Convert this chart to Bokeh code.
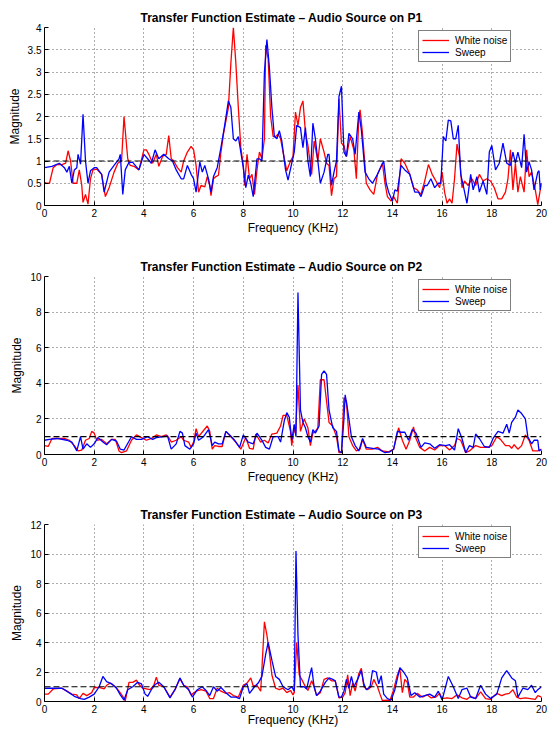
from bokeh.plotting import figure
from bokeh.layouts import column
from bokeh.models import Range1d, FixedTicker, Span, Legend, LegendItem, Title
from bokeh.embed import file_html
from bokeh.resources import INLINE

# ---------------- data ----------------
x_ticks = [0, 2, 4, 6, 8, 10, 12, 14, 16, 18, 20]
x_tick_labels = ["0", "2", "4", "6", "8", "10", "12", "14", "16", "18", "20"]
y_ticks_p1 = [0, 0.5, 1, 1.5, 2, 2.5, 3, 3.5, 4]
y_tick_labels_p1 = ["0", "0.5", "1", "1.5", "2", "2.5", "3", "3.5", "4"]
y_ticks_p2 = [0, 2, 4, 6, 8, 10]
y_tick_labels_p2 = ["0", "2", "4", "6", "8", "10"]
y_ticks_p3 = [0, 2, 4, 6, 8, 10, 12]
y_tick_labels_p3 = ["0", "2", "4", "6", "8", "10", "12"]
ref_level = 1.0
series_names = ["White noise", "Sweep"]
titles = ["Transfer Function Estimate \u2013 Audio Source on P1",
          "Transfer Function Estimate \u2013 Audio Source on P2",
          "Transfer Function Estimate \u2013 Audio Source on P3"]

# P1 white noise
p1_noise_f = [0, 0.1, 0.2, 0.35, 0.5, 0.7, 0.85, 0.95, 1.05, 1.15, 1.3, 1.4, 1.5, 1.55, 1.65, 1.75, 1.85, 1.95,
              2.1, 2.3, 2.45, 2.6, 2.8, 2.95, 3.1, 3.2, 3.35, 3.45, 3.6, 3.8, 4.0, 4.1, 4.2, 4.35, 4.5, 4.6,
              4.75, 4.9, 5.0, 5.1, 5.2, 5.35, 5.5, 5.6, 5.75, 5.9, 6.0, 6.1, 6.2, 6.3, 6.45, 6.55, 6.65, 6.7,
              6.8, 6.9, 7.0, 7.1, 7.2, 7.3, 7.4, 7.5, 7.6, 7.7, 7.8, 7.9, 8.0, 8.05, 8.15, 8.25, 8.35, 8.45,
              8.55, 8.65, 8.75, 8.85, 8.9, 9.0, 9.1, 9.2, 9.3, 9.4, 9.5, 9.6, 9.75, 9.9, 10.0, 10.1, 10.2,
              10.3, 10.4, 10.5, 10.6, 10.75, 10.85, 11.0, 11.1, 11.25, 11.35, 11.45, 11.55, 11.65, 11.75,
              11.85, 11.95, 12.05, 12.15, 12.3, 12.45, 12.55, 12.65, 12.7, 12.8, 12.95, 13.1, 13.25, 13.4,
              13.6, 13.7, 13.8, 13.95, 14.05, 14.2, 14.35, 14.5, 14.7, 14.85, 15.0, 15.15, 15.3, 15.45, 15.6,
              15.75, 15.9, 16.0, 16.1, 16.2, 16.3, 16.4, 16.5, 16.6, 16.7, 16.8, 16.9, 17.05, 17.2, 17.35,
              17.5, 17.65, 17.8, 17.95, 18.1, 18.25, 18.4, 18.55, 18.65, 18.75, 18.85, 18.95, 19.05, 19.15,
              19.3, 19.4, 19.5, 19.6, 19.75, 19.85, 19.95, 20.0]
p1_noise_m = [0.52, 0.5, 0.5, 0.85, 0.92, 0.92, 0.95, 1.23, 1.0, 0.5, 0.5, 0.8, 0.45, 0.07, 0.25, 0.03, 0.6, 0.8,
              0.82, 0.7, 0.2, 0.4, 0.75, 0.95, 1.0, 2.0, 1.05, 0.9, 0.88, 0.8, 1.25, 1.25, 1.15, 0.95, 1.15, 0.88,
              1.1, 1.15, 1.57, 1.05, 1.0, 0.85, 0.75, 1.0, 1.2, 1.33, 1.25, 0.9, 0.3, 0.45, 0.42, 0.65, 0.45, 0.22,
              0.6, 0.65, 0.68, 1.2, 1.6, 1.9, 2.2, 3.2, 4.0, 3.2, 2.2, 1.3, 0.9, 0.45, 1.15, 0.6, 0.7, 0.25,
              0.8, 1.2, 1.05, 1.5, 3.6, 3.3, 2.0, 1.55, 1.55, 1.6, 1.5, 1.2, 0.78, 1.0, 1.1, 2.1, 1.8,
              2.2, 2.35, 1.65, 1.35, 0.7, 1.45, 1.0, 1.5, 1.2, 0.95, 0.9, 0.22, 0.6, 0.65,
              2.4, 1.4, 1.35, 1.1, 1.55, 1.25, 0.6, 2.0, 2.15, 1.6, 0.5, 0.35, 0.25, 0.7,
              0.95, 0.5, 0.2, 0.1, 0.2, 0.05, 1.05, 0.95, 0.7, 0.4, 0.35, 0.25, 0.55, 0.92, 0.7,
              0.55, 0.4, 0.75, 0.3, 0.05, 0.15, 0.05, 0.6, 1.38, 1.1, 0.4, 0.55, 0.45, 0.6, 0.45,
              0.7, 0.55, 0.6, 0.55, 0.4, 0.15, 0.15, 0.3, 0.6, 1.25, 0.35, 0.95, 0.3, 0.65,
              0.3, 1.25, 0.65, 0.75, 0.35, 0.02, 0.35, 0.5]

# P1 sweep
p1_sweep_f = [0, 0.3, 0.6, 0.8, 0.9, 1.0, 1.1, 1.2, 1.3, 1.35, 1.45, 1.55, 1.65, 1.75, 1.85, 2.0, 2.1, 2.3, 2.4,
              2.6, 2.8, 3.0, 3.05, 3.15, 3.25, 3.4, 3.55, 3.8, 4.0, 4.15, 4.3, 4.45, 4.6, 4.8, 5.0, 5.15, 5.3,
              5.5, 5.6, 5.75, 5.9, 6.0, 6.1, 6.25, 6.35, 6.45, 6.6, 6.7, 6.8, 6.95, 7.1, 7.25, 7.4, 7.5, 7.6,
              7.7, 7.8, 7.9, 8.0, 8.1, 8.2, 8.3, 8.4, 8.55, 8.65, 8.75, 8.85, 8.95, 9.05, 9.15, 9.25, 9.35,
              9.45, 9.55, 9.7, 9.8, 9.95, 10.05, 10.15, 10.3, 10.4, 10.5, 10.6, 10.7, 10.8, 10.9, 11.0, 11.1,
              11.25, 11.4, 11.45, 11.55, 11.65, 11.75, 11.85, 11.95, 12.05, 12.15, 12.25, 12.4, 12.5, 12.65,
              12.75, 12.9, 13.05, 13.2, 13.4, 13.65, 13.75, 13.85, 14.0, 14.1, 14.2, 14.35, 14.5, 14.7, 14.9,
              15.05, 15.15, 15.3, 15.4, 15.55, 15.7, 15.85, 15.95, 16.05, 16.15, 16.25, 16.35, 16.45, 16.55,
              16.65, 16.75, 16.85, 17.0, 17.15, 17.25, 17.4, 17.5, 17.65, 17.8, 17.9, 18.0, 18.15, 18.3, 18.45,
              18.6, 18.75, 18.85, 18.95, 19.05, 19.2, 19.3, 19.4, 19.5, 19.6, 19.7, 19.85, 19.9, 19.95, 20.0]
p1_sweep_m = [0.85, 0.88, 0.95, 0.85, 0.75, 0.88, 0.5, 0.8, 0.85, 1.15, 0.93, 2.05, 1.0, 0.5, 0.78, 0.85, 0.85, 0.7, 0.3,
              0.75, 0.9, 1.05, 1.15, 0.25, 0.8, 0.97, 0.97, 0.8, 1.15, 1.05, 0.95, 1.25, 1.05, 1.15, 1.05, 1.0, 0.8,
              0.6, 0.6, 0.9, 0.7, 0.6, 0.3, 0.98, 0.75, 0.9, 0.6, 0.3, 0.65, 0.85, 1.3, 1.8, 2.35, 2.2, 1.5,
              1.45, 1.55, 1.2, 0.85, 0.4, 0.68, 0.5, 0.2, 1.05, 1.05, 1.0, 3.0, 3.73, 3.1, 2.2, 1.55, 1.5,
              1.68, 1.45, 0.8, 0.57, 0.95, 1.2, 1.8, 1.75, 1.3, 1.75, 1.0, 0.65, 1.85, 1.5, 1.0, 0.5,
              0.75, 1.15, 1.15, 0.45, 0.75, 1.0, 2.45, 2.68, 1.2, 1.1, 1.62, 1.5, 1.15, 2.1,
              1.7, 0.75, 0.6, 0.5, 0.7, 1.0, 0.5, 0.3, 0.1, 0.35, 0.32, 0.9, 0.8, 0.7, 0.3,
              0.3, 0.2, 0.45, 0.45, 0.6, 0.4, 0.5, 0.5, 1.55, 1.45, 1.92, 1.9, 1.5, 1.5,
              1.8, 0.7, 0.45, 0.05, 0.7, 0.35, 0.65, 0.3, 0.55, 0.25, 1.2, 1.35, 0.8, 0.95, 1.4,
              0.95, 0.9, 1.2, 0.95, 1.2, 0.85, 1.6, 0.75, 0.98, 0.8, 0.35, 0.75, 0.78, 0.35, 0.5]

# P2 white noise
p2_noise_f = [0, 0.15, 0.3, 0.8, 1.0, 1.2, 1.35, 1.5, 1.65, 1.8, 1.9, 2.0, 2.1, 2.3, 2.5, 2.7, 2.85, 3.0, 3.1,
              3.3, 3.5, 3.7, 3.9, 4.1, 4.3, 4.5, 4.7, 4.9, 5.0, 5.1, 5.3, 5.5, 5.6, 5.8, 5.9, 6.0, 6.1, 6.2,
              6.4, 6.55, 6.65, 6.75, 6.85, 7.0, 7.15, 7.3, 7.5, 7.7, 7.9, 8.1, 8.25, 8.4, 8.5, 8.7, 8.85,
              9.0, 9.15, 9.35, 9.5, 9.6, 9.75, 9.9, 9.95, 10.05, 10.1, 10.2, 10.3, 10.45, 10.6, 10.7, 10.8,
              10.9, 11.0, 11.1, 11.25, 11.35, 11.45, 11.6, 11.75, 11.85, 11.95, 12.05, 12.15, 12.25, 12.4,
              12.55, 12.7, 12.8, 12.95, 13.2, 13.4, 13.6, 13.85, 14.05, 14.25, 14.4, 14.55, 14.7, 14.85,
              14.95, 15.1, 15.3, 15.5, 15.7, 15.9, 16.1, 16.3, 16.5, 16.6, 16.75, 16.95, 17.1, 17.35, 17.55,
              17.8, 18.0, 18.2, 18.35, 18.55, 18.7, 18.8, 18.9, 19.05, 19.2, 19.35, 19.5, 19.65, 19.85, 20.0]
p2_noise_m = [0.5, 0.45, 0.9, 0.9, 0.8, 0.5, 0.2, 0.25, 0.8, 0.9, 1.3, 1.2, 0.8, 0.85, 0.6, 0.85, 0.85, 0.2, 0.1,
              0.2, 0.8, 1.1, 0.95, 0.8, 0.9, 1.1, 1.0, 1.1, 0.95, 0.7, 0.8, 1.0, 0.8, 0.7, 0.4, 0.7, 1.45, 1.0,
              1.35, 1.6, 1.3, 0.3, 0.5, 0.45, 0.45, 1.3, 1.0, 0.7, 0.3, 0.95, 0.35, 0.3, 1.15, 0.7, 0.8,
              0.65, 1.15, 1.2, 1.6, 2.2, 2.2, 1.3, 0.5, 1.5, 1.2, 3.9, 1.3, 2.0, 1.5, 0.5, 1.2,
              1.3, 1.5, 4.2, 4.2, 3.0, 1.8, 1.6, 1.0, 0.1, 0.1, 3.2, 3.0, 1.0, 0.5,
              0.2, 0.3, 0.85, 0.3, 0.3, 0.4, 0.2, 0.15, 0.3, 1.5, 0.8, 0.3, 0.8, 1.55,
              0.9, 0.4, 0.2, 0.4, 0.25, 0.5, 0.5, 0.25, 0.5, 0.9, 0.8, 0.1, 0.2, 0.5, 0.4,
              0.4, 0.5, 1.0, 0.85, 0.5, 0.5, 0.35, 0.55, 0.3, 0.5, 1.1, 0.8, 0.2, 0.2, 0.3]

# P2 sweep
p2_sweep_f = [0, 0.2, 0.5, 0.9, 1.1, 1.3, 1.45, 1.55, 1.7, 1.85, 2.0, 2.15, 2.35, 2.5, 2.7, 2.9, 3.05, 3.2, 3.5,
              3.7, 3.9, 4.15, 4.35, 4.5, 4.8, 4.95, 5.1, 5.3, 5.45, 5.55, 5.65, 5.85, 6.0, 6.1, 6.2, 6.4, 6.6,
              6.75, 6.85, 7.0, 7.15, 7.3, 7.45, 7.65, 7.85, 8.0, 8.2, 8.4, 8.55, 8.75, 8.9, 9.05, 9.2, 9.4,
              9.5, 9.65, 9.75, 9.85, 9.95, 10.05, 10.12, 10.2, 10.3, 10.4, 10.5, 10.6, 10.7, 10.8, 10.9, 11.05,
              11.15, 11.25, 11.35, 11.45, 11.6, 11.75, 11.85, 11.95, 12.05, 12.1, 12.2, 12.35, 12.5, 12.65,
              12.8, 12.95, 13.2, 13.45, 13.7, 13.9, 14.05, 14.2, 14.35, 14.5, 14.65, 14.8, 14.95, 15.15, 15.3,
              15.5, 15.7, 15.9, 16.15, 16.3, 16.5, 16.65, 16.8, 16.95, 17.1, 17.25, 17.35, 17.5, 17.7, 17.9,
              18.05, 18.25, 18.45, 18.6, 18.7, 18.8, 18.95, 19.05, 19.2, 19.35, 19.45, 19.6, 19.7, 19.85, 19.9,
              20.0]
p2_sweep_m = [0.8, 0.85, 0.9, 0.8, 0.7, 0.2, 1.0, 0.3, 0.6, 0.4, 0.6, 0.95, 0.7, 0.55, 0.85, 0.75, 0.3, 0.25, 1.0,
              0.85, 0.85, 1.0, 0.85, 0.95, 1.0, 1.05, 0.3, 0.6, 1.3, 1.2, 0.5, 0.3, 0.6, 1.2, 0.8, 1.0, 1.4,
              0.5, 0.7, 0.6, 0.6, 1.3, 1.1, 0.8, 0.4, 1.1, 0.7, 0.6, 1.2, 0.8, 0.4, 0.3, 1.0, 1.0,
              0.7, 1.9, 2.35, 2.1, 0.8, 1.7, 1.0, 9.1, 2.5, 1.8, 1.5, 1.0, 0.7, 1.4, 1.2, 1.6,
              4.5, 4.7, 4.5, 2.5, 1.5, 1.3, 0.2, 0.1, 2.0, 3.35, 2.5, 1.0, 0.5, 0.2,
              0.9, 0.4, 0.35, 0.3, 0.1, 0.15, 0.3, 1.3, 1.25, 1.25, 0.8, 1.4, 1.2, 0.4, 0.65,
              0.6, 0.35, 0.55, 0.5, 0.55, 0.25, 1.45, 0.9, 0.1, 0.5, 0.4, 1.15, 0.9, 0.45, 0.4,
              0.9, 1.3, 1.2, 1.7, 1.2, 1.8, 2.1, 2.5, 2.3, 2.0, 1.0, 0.6, 0.8, 0.8, 0.2,
              0.3]

# P3 white noise
p3_noise_f = [0, 0.15, 0.35, 0.7, 0.9, 1.1, 1.3, 1.4, 1.55, 1.7, 1.9, 2.0, 2.2, 2.4, 2.5, 2.65, 2.85, 3.0, 3.15,
              3.25, 3.4, 3.55, 3.7, 3.8, 3.95, 4.1, 4.25, 4.4, 4.5, 4.6, 4.8, 5.05, 5.25, 5.45, 5.6, 5.75, 5.9,
              6.1, 6.3, 6.5, 6.65, 6.8, 6.95, 7.1, 7.3, 7.45, 7.6, 7.8, 8.0, 8.15, 8.3, 8.4, 8.55, 8.7, 8.85,
              8.95, 9.05, 9.15, 9.3, 9.45, 9.6, 9.75, 9.9, 10.0, 10.05, 10.15, 10.25, 10.35, 10.5, 10.6, 10.75,
              10.85, 10.95, 11.1, 11.25, 11.4, 11.55, 11.7, 11.85, 12.0, 12.1, 12.2, 12.3, 12.4, 12.5, 12.65,
              12.75, 12.85, 13.0, 13.15, 13.25, 13.4, 13.5, 13.6, 13.75, 13.9, 14.05, 14.2, 14.3, 14.4, 14.5,
              14.6, 14.7, 14.85, 15.0, 15.2, 15.4, 15.55, 15.75, 15.9, 16.0, 16.2, 16.4, 16.6, 16.8, 17.0,
              17.15, 17.35, 17.55, 17.75, 17.95, 18.2, 18.4, 18.55, 18.7, 18.85, 19.0, 19.15, 19.35, 19.55,
              19.75, 19.85, 20.0]
p3_noise_m = [0.5, 0.5, 0.85, 0.9, 0.7, 0.5, 0.45, 0.2, 0.55, 0.4, 0.6, 0.95, 0.95, 0.85, 1.1, 1.25, 1.0, 0.7, 0.35,
              0.05, 1.3, 1.3, 1.45, 1.15, 0.9, 0.85, 0.8, 1.1, 1.65, 1.1, 1.0, 0.3, 0.8, 1.55, 1.1, 1.0, 0.45,
              0.7, 0.8, 0.7, 0.2, 0.2, 0.9, 0.7, 0.55, 0.6, 0.4, 0.3, 1.1, 1.25, 1.6, 1.05, 1.1, 0.7, 5.4,
              4.5, 3.3, 1.8, 0.9, 0.8, 0.9, 0.6, 0.75, 0.45, 0.6, 4.0, 1.8, 1.5, 1.0, 0.75, 1.4,
              1.0, 0.4, 0.6, 1.5, 1.6, 1.4, 1.4, 0.25, 0.3, 0.6, 1.8, 0.4, 1.25, 0.7, 1.9,
              2.25, 1.0, 0.8, 1.0, 1.5, 1.0, 0.5, 0.05, 0.1, 0.05, 0.8, 1.8, 2.2, 0.6, 1.5,
              1.3, 0.3, 0.3, 0.55, 0.3, 0.45, 0.25, 0.3, 0.55, 0.2, 0.25, 0.2, 0.45, 0.25, 0.15,
              0.35, 0.2, 0.65, 0.2, 0.15, 0.55, 0.4, 0.5, 0.55, 0.8, 0.3, 0.2, 0.25, 0.2,
              0.15, 0.4, 0.3]

# P3 sweep
p3_sweep_f = [0, 0.3, 0.7, 0.9, 1.2, 1.45, 1.6, 1.8, 2.0, 2.2, 2.35, 2.5, 2.7, 2.9, 3.05, 3.2, 3.35, 3.55, 3.75,
              3.9, 4.05, 4.15, 4.3, 4.45, 4.6, 4.8, 5.05, 5.25, 5.45, 5.6, 5.8, 5.95, 6.15, 6.35, 6.5, 6.65, 6.8,
              6.95, 7.1, 7.3, 7.5, 7.7, 7.85, 8.0, 8.15, 8.25, 8.45, 8.6, 8.75, 8.9, 9.0, 9.15, 9.3, 9.45, 9.6,
              9.8, 9.95, 10.05, 10.12, 10.2, 10.3, 10.45, 10.55, 10.65, 10.75, 10.85, 10.95, 11.1, 11.3, 11.45,
              11.6, 11.7, 11.85, 11.95, 12.05, 12.15, 12.25, 12.35, 12.45, 12.6, 12.75, 12.85, 12.95, 13.1,
              13.2, 13.35, 13.45, 13.55, 13.65, 13.8, 13.95, 14.1, 14.3, 14.45, 14.6, 14.75, 14.9, 15.1, 15.3,
              15.5, 15.7, 15.85, 16.0, 16.25, 16.45, 16.65, 16.8, 17.0, 17.15, 17.35, 17.55, 17.75, 17.95,
              18.2, 18.4, 18.6, 18.8, 18.95, 19.05, 19.25, 19.45, 19.6, 19.75, 19.85, 20.0]
p3_sweep_m = [0.9, 0.9, 0.9, 0.7, 0.35, 0.2, 0.15, 0.3, 0.5, 1.0, 1.7, 1.35, 1.2, 0.9, 0.45, 0.1, 0.8, 1.0, 1.3,
              1.2, 0.5, 0.35, 0.8, 1.15, 1.3, 1.0, 0.25, 0.8, 1.6, 1.1, 0.8, 0.3, 0.8, 1.0, 0.75, 0.4, 1.0,
              0.7, 0.95, 0.6, 0.3, 0.3, 0.2, 1.0, 1.2, 0.55, 1.0, 1.25, 1.7, 3.2, 4.0, 2.8, 1.7, 1.5, 1.0,
              0.8, 1.0, 0.7, 10.2, 4.5, 1.0, 1.0, 0.85, 1.6, 2.3, 1.0, 0.4, 0.7, 1.3, 1.6,
              1.5, 1.4, 0.3, 0.3, 0.7, 1.5, 0.9, 1.7, 1.0, 1.5, 2.1, 1.2, 0.8, 1.0,
              2.1, 2.0, 1.2, 1.75, 0.5, 0.2, 0.1, 0.8, 2.3, 2.0, 1.6, 0.4, 0.6, 0.3, 0.4,
              0.5, 0.3, 0.7, 0.1, 1.7, 1.0, 0.2, 0.8, 0.9, 0.3, 0.2, 1.1, 0.5, 0.2,
              0.5, 1.6, 2.1, 1.6, 1.4, 0.3, 0.9, 0.8, 1.1, 0.6, 0.8, 1.0]

# ---------------- styling ----------------
FONT = "Liberation Sans"
RED = "#ff0000"
BLUE = "#0000ff"

panels = [
    dict(title=titles[0], ymax=4, yt=y_ticks_p1, ytl=y_tick_labels_p1,
         noise=(p1_noise_f, p1_noise_m), sweep=(p1_sweep_f, p1_sweep_m),
         height=248, top=27, bottom=43),
    dict(title=titles[1], ymax=10, yt=y_ticks_p2, ytl=y_tick_labels_p2,
         noise=(p2_noise_f, p2_noise_m), sweep=(p2_sweep_f, p2_sweep_m),
         height=249, top=28, bottom=43),
    dict(title=titles[2], ymax=12, yt=y_ticks_p3, ytl=y_tick_labels_p3,
         noise=(p3_noise_f, p3_noise_m), sweep=(p3_sweep_f, p3_sweep_m),
         height=232, top=27, bottom=27),
]

figs = []
for i, cfg in enumerate(panels):
    p = figure(width=548, height=cfg["height"], output_backend="svg", toolbar_location=None,
               x_range=Range1d(0, 20), y_range=Range1d(0, cfg["ymax"]),
               min_border_left=44, min_border_right=7,
               min_border_top=cfg["top"], min_border_bottom=cfg["bottom"],
               background_fill_color="white", border_fill_color="white")
    p.outline_line_color = None

    t = Title(text=cfg["title"], text_font=FONT, text_font_size="12px", text_font_style="bold",
              text_color="black", align="left", offset=96, standoff=6)
    p.add_layout(t, "above")

    # axes
    p.xaxis.ticker = FixedTicker(ticks=x_ticks)
    p.xaxis.major_label_overrides = {k: v for k, v in zip(x_ticks, x_tick_labels)}
    p.yaxis.ticker = FixedTicker(ticks=cfg["yt"])
    p.yaxis.major_label_overrides = {k: v for k, v in zip(cfg["yt"], cfg["ytl"])}
    for ax in (p.xaxis[0], p.yaxis[0]):
        ax.axis_line_color = "black"
        ax.axis_line_width = 1
        ax.major_tick_in = 4
        ax.major_tick_out = 0
        ax.major_tick_line_color = "black"
        ax.minor_tick_line_color = None
        ax.major_label_text_font = FONT
        ax.major_label_text_font_size = "10px"
        ax.major_label_text_color = "black"
        ax.axis_label_text_font = FONT
        ax.axis_label_text_font_size = "12px"
        ax.axis_label_text_font_style = "normal"
        ax.axis_label_text_color = "black"
        ax.major_label_standoff = 3
    p.xaxis.axis_label = "Frequency (KHz)"
    p.yaxis.axis_label = "Magnitude"
    p.xaxis.axis_label_standoff = 1 if i < 2 else -3
    p.yaxis.axis_label_standoff = 3

    # grid
    for g in (p.xgrid[0], p.ygrid[0]):
        g.grid_line_color = "#333333"
        g.grid_line_dash = "1 3"
        g.grid_line_width = 1
        g.grid_line_alpha = 0.8
    p.xgrid.ticker = FixedTicker(ticks=x_ticks)
    p.ygrid.ticker = FixedTicker(ticks=cfg["yt"])

    r_noise = p.line(cfg["noise"][0], cfg["noise"][1], line_color=RED, line_width=1.3)
    r_sweep = p.line(cfg["sweep"][0], cfg["sweep"][1], line_color=BLUE, line_width=1.3)

    p.add_layout(Span(location=ref_level, dimension="width", line_color="black",
                      line_dash="6 3", line_width=1.2))

    legend = Legend(items=[LegendItem(label=series_names[0], renderers=[r_noise]),
                           LegendItem(label=series_names[1], renderers=[r_sweep])],
                    location=(374, 143), orientation="vertical",
                    label_text_font=FONT, label_text_font_size="10px", label_text_color="black",
                    glyph_width=27, glyph_height=12, label_height=12, label_standoff=6,
                    spacing=0, padding=3, margin=0,
                    border_line_color="black", border_line_width=1.2,
                    background_fill_color="white", background_fill_alpha=1.0)
    p.add_layout(legend, "center")
    figs.append(p)

layout = column(*figs, spacing=0)
open("out.html", "w").write(file_html(layout, INLINE))
